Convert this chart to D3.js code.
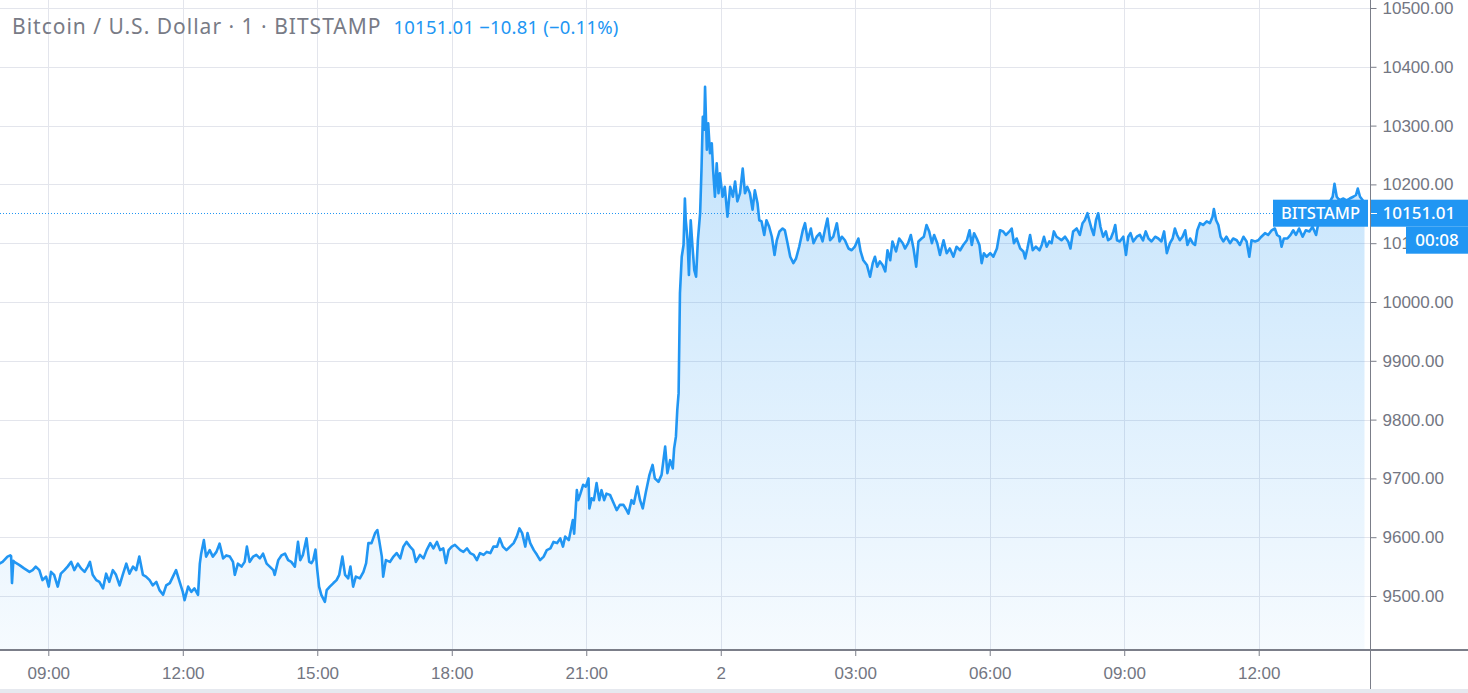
<!DOCTYPE html>
<html>
<head>
<meta charset="utf-8">
<script src="https://cdn.jsdelivr.net/npm/d3@7"></script>
<style>
  html, body { margin: 0; padding: 0; background: #fff; }
  svg { display: block; font-family: 'Noto Sans', sans-serif; }
</style>
</head>
<body>
<svg id="chart"></svg>
<script>
const WIDTH = 1468;
const HEIGHT = 693;
const PLOT_RIGHT = 1370;
const PLOT_BOTTOM = 650;

// Hours counted from 00:00 on 1 Aug 2019 (1-minute BITSTAMP closes).
const hours = [
  7.91, 7.98, 8.09, 8.15, 8.17, 8.19, 8.22, 8.24, 8.35, 8.46,
  8.58, 8.65, 8.72, 8.80, 8.87, 8.95, 9.01, 9.06, 9.13, 9.21,
  9.28, 9.36, 9.43, 9.51, 9.58, 9.66, 9.73, 9.81, 9.88, 9.93,
  9.99, 10.07, 10.14, 10.22, 10.29, 10.36, 10.44, 10.51, 10.59, 10.66,
  10.74, 10.81, 10.89, 10.96, 11.03, 11.11, 11.18, 11.26, 11.33, 11.41,
  11.48, 11.56, 11.63, 11.71, 11.78, 11.85, 11.93, 12.00, 12.04, 12.12,
  12.19, 12.26, 12.34, 12.38, 12.41, 12.47, 12.52, 12.60, 12.67, 12.75,
  12.82, 12.90, 12.97, 13.05, 13.12, 13.16, 13.23, 13.31, 13.38, 13.43,
  13.49, 13.57, 13.64, 13.72, 13.79, 13.87, 13.94, 14.02, 14.05, 14.13,
  14.20, 14.28, 14.35, 14.42, 14.50, 14.57, 14.62, 14.68, 14.76, 14.82,
  14.87, 14.91, 14.96, 15.00, 15.04, 15.09, 15.17, 15.21, 15.28, 15.36,
  15.43, 15.49, 15.56, 15.62, 15.69, 15.74, 15.80, 15.86, 15.95, 16.03,
  16.09, 16.14, 16.21, 16.29, 16.34, 16.38, 16.44, 16.47, 16.53, 16.62,
  16.70, 16.77, 16.85, 16.92, 16.99, 17.07, 17.14, 17.20, 17.29, 17.37,
  17.44, 17.52, 17.59, 17.67, 17.74, 17.81, 17.87, 17.93, 18.00, 18.07,
  18.19, 18.26, 18.34, 18.41, 18.49, 18.56, 18.63, 18.71, 18.78, 18.86,
  18.93, 19.01, 19.07, 19.14, 19.22, 19.30, 19.38, 19.45, 19.51, 19.57,
  19.64, 19.69, 19.75, 19.83, 19.90, 19.97, 20.05, 20.12, 20.20, 20.27,
  20.35, 20.42, 20.48, 20.53, 20.61, 20.70, 20.73, 20.79, 20.82, 20.87,
  20.93, 20.99, 21.05, 21.07, 21.12, 21.17, 21.23, 21.29, 21.34, 21.40,
  21.45, 21.53, 21.60, 21.68, 21.75, 21.83, 21.90, 21.94, 22.01, 22.06,
  22.14, 22.20, 22.26, 22.33, 22.41, 22.48, 22.53, 22.61, 22.68, 22.76,
  22.81, 22.87, 22.93, 22.96, 23.00, 23.03, 23.06, 23.09, 23.13, 23.17,
  23.20, 23.22, 23.26, 23.29, 23.33, 23.37, 23.41, 23.45, 23.49, 23.54,
  23.57, 23.60, 23.63, 23.65, 23.69, 23.72, 23.76, 23.80, 23.83, 23.87,
  23.91, 23.95, 23.98, 24.04, 24.09, 24.15, 24.21, 24.27, 24.32, 24.37,
  24.43, 24.49, 24.54, 24.59, 24.65, 24.71, 24.76, 24.82, 24.86, 24.91,
  24.97, 25.02, 25.08, 25.14, 25.20, 25.25, 25.31, 25.38, 25.43, 25.49,
  25.55, 25.62, 25.68, 25.75, 25.83, 25.88, 25.94, 26.01, 26.07, 26.14,
  26.21, 26.27, 26.33, 26.38, 26.44, 26.51, 26.59, 26.65, 26.70, 26.77,
  26.85, 26.92, 26.99, 27.07, 27.12, 27.18, 27.26, 27.33, 27.39, 27.44,
  27.49, 27.55, 27.61, 27.67, 27.72, 27.78, 27.83, 27.91, 27.98, 28.06,
  28.11, 28.18, 28.24, 28.30, 28.36, 28.41, 28.48, 28.53, 28.59, 28.65,
  28.71, 28.76, 28.83, 28.89, 28.97, 29.04, 29.11, 29.19, 29.26, 29.34,
  29.41, 29.49, 29.55, 29.60, 29.65, 29.71, 29.77, 29.82, 29.87, 29.93,
  30.01, 30.08, 30.16, 30.23, 30.30, 30.36, 30.44, 30.49, 30.54, 30.60,
  30.68, 30.75, 30.79, 30.84, 30.90, 30.96, 31.03, 31.11, 31.16, 31.21,
  31.27, 31.33, 31.38, 31.43, 31.49, 31.55, 31.60, 31.68, 31.75, 31.80,
  31.86, 31.94, 32.01, 32.07, 32.12, 32.18, 32.22, 32.27, 32.32, 32.37,
  32.42, 32.47, 32.53, 32.59, 32.64, 32.70, 32.76, 32.80, 32.84, 32.90,
  32.98, 33.04, 33.09, 33.14, 33.20, 33.28, 33.35, 33.42, 33.48, 33.54,
  33.61, 33.69, 33.76, 33.83, 33.89, 33.95, 34.02, 34.08, 34.13, 34.18,
  34.24, 34.30, 34.36, 34.41, 34.47, 34.53, 34.58, 34.63, 34.69, 34.76,
  34.84, 34.91, 34.97, 35.00, 35.05, 35.10, 35.15, 35.21, 35.28, 35.36,
  35.43, 35.51, 35.58, 35.66, 35.73, 35.79, 35.84, 35.92, 35.99, 36.06,
  36.14, 36.21, 36.29, 36.36, 36.41, 36.47, 36.51, 36.56, 36.64, 36.71,
  36.77, 36.83, 36.90, 36.98, 37.05, 37.13, 37.20, 37.28, 37.33, 37.38,
  37.45, 37.53, 37.59, 37.65, 37.69, 37.74, 37.80, 37.89, 37.96, 38.03,
  38.11, 38.17, 38.21, 38.26, 38.32, 38.36
];

const prices = [
  9555, 9558, 9567, 9569, 9568, 9522, 9560, 9558, 9553, 9547,
  9541, 9544, 9550, 9544, 9527, 9533, 9516, 9541, 9536, 9516,
  9538, 9544, 9550, 9558, 9544, 9555, 9547, 9541, 9550, 9558,
  9536, 9527, 9524, 9513, 9538, 9524, 9544, 9536, 9518, 9536,
  9555, 9538, 9550, 9544, 9567, 9536, 9533, 9527, 9518, 9524,
  9510, 9502, 9518, 9522, 9533, 9544, 9524, 9507, 9493, 9516,
  9507, 9513, 9502, 9555, 9572, 9595, 9567, 9578, 9567, 9575,
  9589, 9564, 9569, 9567, 9558, 9536, 9555, 9550, 9558, 9584,
  9558, 9567, 9570, 9564, 9572, 9555, 9550, 9544, 9536, 9561,
  9569, 9572, 9561, 9558, 9550, 9592, 9561, 9570, 9598, 9558,
  9556, 9561, 9579, 9544, 9516, 9502, 9490, 9510, 9516, 9522,
  9527, 9536, 9567, 9536, 9530, 9550, 9516, 9533, 9530, 9541,
  9556, 9590, 9590, 9607, 9612, 9595, 9567, 9533, 9561, 9558,
  9567, 9573, 9564, 9584, 9592, 9584, 9578, 9558, 9570, 9564,
  9578, 9590, 9581, 9592, 9578, 9581, 9556, 9578, 9584, 9587,
  9578, 9575, 9581, 9573, 9570, 9561, 9573, 9570, 9575, 9573,
  9584, 9584, 9598, 9584, 9578, 9584, 9590, 9601, 9615, 9607,
  9584, 9607, 9590, 9578, 9570, 9561, 9567, 9578, 9581, 9592,
  9590, 9598, 9584, 9601, 9595, 9629, 9606, 9680, 9663, 9674,
  9689, 9686, 9700, 9649, 9666, 9663, 9692, 9663, 9680, 9663,
  9674, 9672, 9660, 9646, 9655, 9655, 9646, 9640, 9663, 9657,
  9686, 9663, 9649, 9677, 9706, 9723, 9700, 9694, 9706, 9754,
  9709, 9731, 9717, 9751, 9771, 9816, 9845, 10015, 10077, 10097,
  10176, 10139, 10105, 10046, 10139, 10094, 10054, 10043, 10105, 10151,
  10224, 10315, 10293, 10366, 10259, 10304, 10253, 10270, 10224, 10179,
  10236, 10185, 10219, 10179, 10196, 10145, 10196, 10179, 10205, 10171,
  10185, 10227, 10185, 10196, 10185, 10157, 10190, 10168, 10139, 10137,
  10114, 10139, 10128, 10111, 10080, 10105, 10120, 10125, 10122, 10100,
  10077, 10066, 10074, 10094, 10122, 10134, 10105, 10125, 10100, 10111,
  10117, 10103, 10125, 10142, 10105, 10111, 10134, 10103, 10111, 10105,
  10091, 10088, 10094, 10108, 10086, 10071, 10063, 10043, 10066, 10077,
  10060, 10069, 10063, 10052, 10088, 10071, 10103, 10086, 10108, 10100,
  10091, 10100, 10114, 10091, 10060, 10103, 10108, 10111, 10131, 10120,
  10100, 10114, 10100, 10080, 10105, 10083, 10091, 10077, 10094, 10088,
  10097, 10105, 10122, 10097, 10117, 10108, 10097, 10066, 10083, 10077,
  10083, 10077, 10091, 10122, 10120, 10114, 10120, 10125, 10100, 10108,
  10091, 10086, 10074, 10091, 10114, 10088, 10094, 10088, 10097, 10111,
  10094, 10103, 10100, 10120, 10111, 10108, 10105, 10111, 10103, 10091,
  10120, 10125, 10114, 10134, 10139, 10151, 10139, 10125, 10114, 10139,
  10151, 10128, 10111, 10120, 10105, 10108, 10120, 10131, 10105, 10103,
  10111, 10080, 10111, 10117, 10103, 10111, 10114, 10105, 10120, 10108,
  10103, 10111, 10108, 10103, 10120, 10083, 10100, 10108, 10125, 10114,
  10105, 10111, 10122, 10097, 10108, 10100, 10097, 10122, 10134, 10131,
  10137, 10134, 10145, 10158, 10139, 10131, 10111, 10103, 10111, 10100,
  10108, 10105, 10097, 10111, 10103, 10077, 10105, 10103, 10105, 10111,
  10117, 10114, 10122, 10125, 10114, 10111, 10094, 10108, 10108, 10114,
  10122, 10114, 10125, 10111, 10122, 10120, 10128, 10114, 10134, 10142,
  10154, 10168, 10171, 10179, 10201, 10179, 10173, 10176, 10173, 10176,
  10179, 10182, 10193, 10179, 10173, 10151.01
];

const priceTicks = [9500, 9600, 9700, 9800, 9900, 10000, 10100, 10200, 10300, 10400, 10500];
const lastPrice = 10151.01;
const titleText = 'Bitcoin / U.S. Dollar · 1 · BITSTAMP';
const quoteText = '10151.01 \u221210.81 (\u22120.11%)';
const countdownText = '00:08';
const exchangeLabel = 'BITSTAMP';

const BLUE = '#2196f3';
const GRID = '#e3e5ec';
const AXIS = '#7b7e89';
const LABEL = '#737682';

const baseDate = new Date(2019, 7, 1);
const toDate = h => new Date(baseDate.getTime() + h * 3600 * 1000);

const data = hours.map((h, i) => ({date: toDate(h), price: prices[i]}));

const svg = d3
  .select('#chart')
  .attr('width', WIDTH)
  .attr('height', HEIGHT)
  .attr('viewBox', `0 0 ${WIDTH} ${HEIGHT}`);

// x: 09:00 sits at 48.3 px, one hour is 44.83 px.
const x = d3
  .scaleTime()
  .domain([toDate(9 - 48.3 / 44.83), toDate(9 + (PLOT_RIGHT - 48.3) / 44.83)])
  .range([0, PLOT_RIGHT]);

const y = d3.scaleLinear().domain([9500, 10500]).range([596, 8]);

const defs = svg.append('defs');
const grad = defs
  .append('linearGradient')
  .attr('id', 'areaFill')
  .attr('gradientUnits', 'userSpaceOnUse')
  .attr('x1', 0)
  .attr('x2', 0)
  .attr('y1', y(d3.max(prices)))
  .attr('y2', PLOT_BOTTOM);
grad.append('stop').attr('offset', 0).attr('stop-color', BLUE).attr('stop-opacity', 0.28);
grad.append('stop').attr('offset', 1).attr('stop-color', BLUE).attr('stop-opacity', 0.04);

defs
  .append('clipPath')
  .attr('id', 'plotClip')
  .append('rect')
  .attr('width', PLOT_RIGHT)
  .attr('height', PLOT_BOTTOM);

// Grid.
const timeTicks = x.ticks(d3.timeHour.every(3));
const grid = svg.append('g').attr('class', 'grid');
grid
  .selectAll('line.v')
  .data(timeTicks)
  .join('line')
  .attr('class', 'v')
  .attr('x1', d => Math.round(x(d)) + 0.5)
  .attr('x2', d => Math.round(x(d)) + 0.5)
  .attr('y1', 0)
  .attr('y2', PLOT_BOTTOM)
  .attr('stroke', GRID);
grid
  .selectAll('line.h')
  .data(priceTicks)
  .join('line')
  .attr('class', 'h')
  .attr('x1', 0)
  .attr('x2', PLOT_RIGHT)
  .attr('y1', d => Math.round(y(d)) + 0.5)
  .attr('y2', d => Math.round(y(d)) + 0.5)
  .attr('stroke', GRID);

// Area and line.
const plot = svg.append('g').attr('clip-path', 'url(#plotClip)');
plot
  .append('path')
  .datum(data)
  .attr('fill', 'url(#areaFill)')
  .attr('d', d3.area().x(d => x(d.date)).y0(PLOT_BOTTOM).y1(d => y(d.price)));
plot
  .append('path')
  .datum(data)
  .attr('fill', 'none')
  .attr('stroke', BLUE)
  .attr('stroke-width', 2.6)
  .attr('stroke-linejoin', 'round')
  .attr('d', d3.line().x(d => x(d.date)).y(d => y(d.price)));

// Last price dotted line.
svg
  .append('line')
  .attr('x1', 0)
  .attr('x2', 1273)
  .attr('y1', Math.round(y(lastPrice)) + 0.5)
  .attr('y2', Math.round(y(lastPrice)) + 0.5)
  .attr('stroke', BLUE)
  .attr('stroke-dasharray', '1,2');

// Axes.
const xAxis = svg
  .append('g')
  .attr('transform', `translate(0,${PLOT_BOTTOM})`)
  .call(
    d3
      .axisBottom(x)
      .tickValues(timeTicks)
      .tickSize(6)
      .tickFormat(d => (d.getHours() === 0 ? d3.timeFormat('%-d')(d) : d3.timeFormat('%H:%M')(d)))
  );
xAxis.select('.domain').attr('stroke', AXIS).attr('stroke-width', 2).attr('d', `M0,0H${WIDTH}`);
xAxis.selectAll('.tick line').attr('stroke', AXIS);
xAxis
  .selectAll('.tick text')
  .attr('fill', LABEL)
  .attr('font-size', 17)
  .attr('y', 17);

const yAxis = svg
  .append('g')
  .attr('transform', `translate(${PLOT_RIGHT + 0.5},0)`)
  .call(d3.axisRight(y).tickValues(priceTicks).tickSize(6).tickFormat(d3.format('.2f')));
yAxis.select('.domain').attr('stroke', AXIS).attr('d', `M0,0V${HEIGHT}`);
yAxis.selectAll('.tick line').attr('stroke', AXIS);
yAxis
  .selectAll('.tick text')
  .attr('fill', LABEL)
  .attr('font-size', 17)
  .attr('x', 12);

// Bottom strip.
svg
  .append('rect')
  .attr('x', 0)
  .attr('y', 689)
  .attr('width', WIDTH)
  .attr('height', 4)
  .attr('fill', '#e6e9ef');

// Labels on the last price.
const ly = y(lastPrice);
svg
  .append('rect')
  .attr('x', 1273)
  .attr('y', ly - 13.5)
  .attr('width', 95)
  .attr('height', 27)
  .attr('fill', BLUE);
svg
  .append('text')
  .attr('x', 1320.5)
  .attr('y', ly)
  .attr('dy', '0.35em')
  .attr('text-anchor', 'middle')
  .attr('fill', '#fff')
  .attr('font-size', 16.5)
  .attr('font-weight', 500)
  .text(exchangeLabel);
svg
  .append('rect')
  .attr('x', PLOT_RIGHT + 1)
  .attr('y', ly - 13.5)
  .attr('width', WIDTH - PLOT_RIGHT)
  .attr('height', 27)
  .attr('fill', BLUE);
svg
  .append('line')
  .attr('x1', PLOT_RIGHT + 1)
  .attr('x2', PLOT_RIGHT + 7)
  .attr('y1', Math.round(ly) + 0.5)
  .attr('y2', Math.round(ly) + 0.5)
  .attr('stroke', '#fff');
svg
  .append('text')
  .attr('x', PLOT_RIGHT + 12.5)
  .attr('y', ly)
  .attr('dy', '0.35em')
  .attr('fill', '#fff')
  .attr('font-size', 17)
  .attr('font-weight', 500)
  .text(d3.format('.2f')(lastPrice));
svg
  .append('rect')
  .attr('x', 1406)
  .attr('y', ly + 13.5)
  .attr('width', WIDTH - 1406)
  .attr('height', 27)
  .attr('fill', BLUE);
svg
  .append('text')
  .attr('x', 1437)
  .attr('y', ly + 27)
  .attr('dy', '0.35em')
  .attr('text-anchor', 'middle')
  .attr('fill', '#fff')
  .attr('font-size', 17)
  .attr('font-weight', 500)
  .text(countdownText);

// Legend.
const legend = svg.append('text').attr('x', 12).attr('y', 34).attr('font-size', 21);
legend.append('tspan').attr('fill', '#787b86').attr('letter-spacing', 1).text(titleText);
legend
  .append('tspan')
  .attr('dx', 12)
  .attr('fill', BLUE)
  .attr('font-size', 18.5)
  .attr('letter-spacing', 0.2)
  .text(quoteText);
</script>
</body>
</html>
